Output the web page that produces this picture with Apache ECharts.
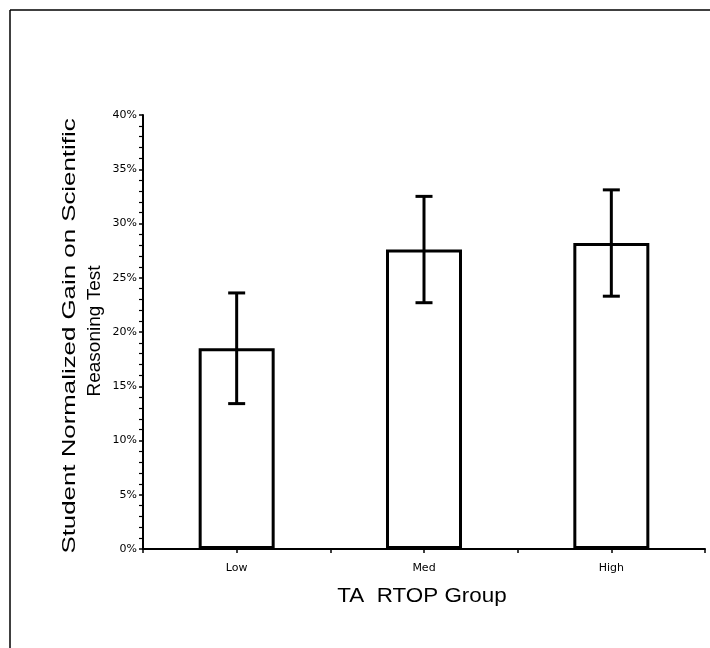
<!DOCTYPE html>
<html><head><meta charset="utf-8">
<script src="https://cdn.jsdelivr.net/npm/echarts@6/dist/echarts.min.js"></script>
<style>html,body{margin:0;padding:0;background:#fff}#c{width:710px;height:648px}</style>
</head><body><div id="c"></div>
<script>
var categories = ['Low', 'Med', 'High'];
var gainValues = [18.5, 27.6, 28.2];
var errorHalf = [5.1, 4.9, 4.9];
var yTicks = [0, 5, 10, 15, 20, 25, 30, 35, 40];
var yTitle1 = 'Student Normalized Gain on Scientific';
var yTitle2 = 'Reasoning Test';
var xTitle = 'TA  RTOP Group';

var chart = echarts.init(document.getElementById('c'));
var errData = gainValues.map(function (v, i) { return [i, v - errorHalf[i], v + errorHalf[i]]; });
var font = '"Liberation Sans", Arial, sans-serif';
var tickFont = '"DejaVu Sans", sans-serif';
chart.setOption({
  animation: false,
  backgroundColor: '#fff',
  grid: { left: 143, top: 115, right: 5, bottom: 99, containLabel: false },
  xAxis: [{
    type: 'category', data: categories, boundaryGap: true,
    axisLine: { lineStyle: { color: '#000', width: 2 } },
    axisTick: { show: true, length: 4, inside: false, lineStyle: { color: '#000', width: 1.5 } },
    axisLabel: { fontFamily: tickFont, fontSize: 11, color: '#000', margin: 14 },
    splitLine: { show: false }
  }, {
    type: 'category', data: categories, position: 'bottom', boundaryGap: true,
    axisLine: { show: false },
    axisTick: { show: true, alignWithLabel: true, length: 4, lineStyle: { color: '#000', width: 1.5 } },
    axisLabel: { show: false }, splitLine: { show: false }
  }],
  yAxis: {
    type: 'value', min: 0, max: 40, interval: 5,
    axisLine: { show: true, lineStyle: { color: '#000', width: 2 } },
    axisTick: { show: true, length: 4, lineStyle: { color: '#000', width: 1.5 } },
    minorTick: { show: true, splitNumber: 5, length: 4, lineStyle: { color: '#000', width: 1.2 } },
    axisLabel: {
      fontFamily: tickFont, fontSize: 11, color: '#000', margin: 6,
      formatter: function (v) { return yTicks.indexOf(v) >= 0 ? v + '%' : ''; }
    },
    splitLine: { show: false }
  },
  series: [{
    type: 'bar', data: gainValues, barWidth: 76, xAxisIndex: 0,
    itemStyle: { color: '#fff', borderColor: '#000', borderWidth: 3 },
    z: 2
  }, {
    type: 'custom', data: errData, xAxisIndex: 0, z: 3,
    renderItem: function (params, api) {
      var x = api.value(0);
      var lo = api.coord([x, api.value(1)]);
      var hi = api.coord([x, api.value(2)]);
      var cw = 8.5;
      var st = { stroke: '#000', lineWidth: 3 };
      return { type: 'group', children: [
        { type: 'line', shape: { x1: hi[0], y1: hi[1], x2: lo[0], y2: lo[1] }, style: st },
        { type: 'line', shape: { x1: hi[0] - cw, y1: hi[1], x2: hi[0] + cw, y2: hi[1] }, style: st },
        { type: 'line', shape: { x1: lo[0] - cw, y1: lo[1], x2: lo[0] + cw, y2: lo[1] }, style: st }
      ] };
    }
  }],
  graphic: [
    { type: 'line', shape: { x1: 10, y1: 10, x2: 710, y2: 10 }, style: { stroke: '#000', lineWidth: 1.5 } },
    { type: 'line', shape: { x1: 10, y1: 10, x2: 10, y2: 648 }, style: { stroke: '#000', lineWidth: 1.5 } },
    { type: 'text', x: 70, y: 336, rotation: Math.PI / 2, scaleX: 1.36,
      style: { text: yTitle1, font: '19px ' + font, fill: '#000', align: 'center', verticalAlign: 'middle' } },
    { type: 'text', x: 95, y: 331, rotation: Math.PI / 2, scaleX: 1.0,
      style: { text: yTitle2, font: '19px ' + font, fill: '#000', align: 'center', verticalAlign: 'middle' } },
    { type: 'text', x: 422, y: 596, scaleX: 1.12,
      style: { text: xTitle, font: '20px ' + font, fill: '#000', align: 'center', verticalAlign: 'middle' } }
  ]
});
</script></body></html>
